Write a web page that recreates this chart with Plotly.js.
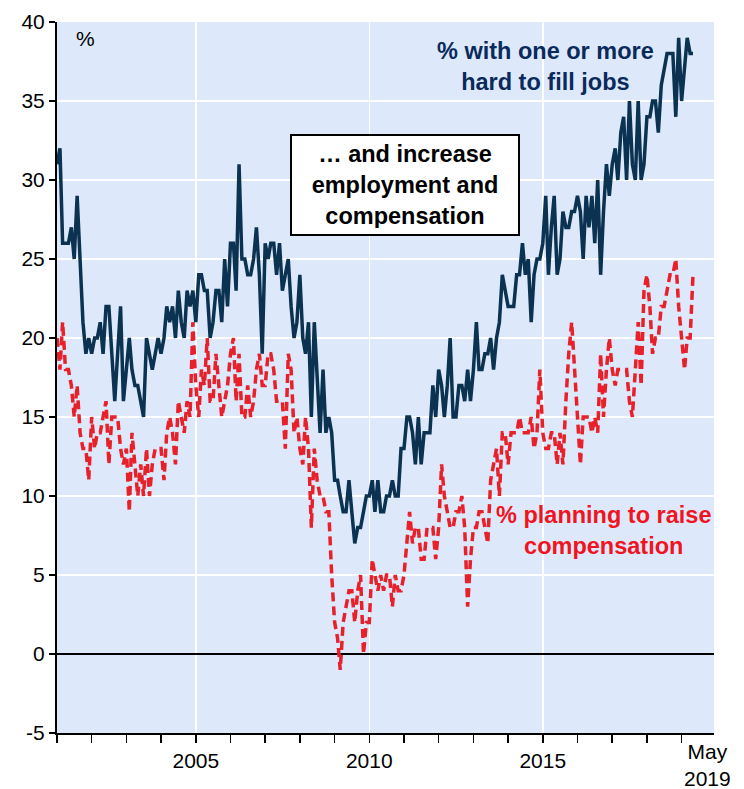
<!DOCTYPE html>
<html>
<head>
<meta charset="utf-8">
<script src="https://cdn.plot.ly/plotly-3.0.1.min.js"></script>
<style>
  html, body { margin: 0; padding: 0; background: #ffffff; }
  #chart { width: 744px; height: 789px; }
</style>
</head>
<body>
<div id="chart"></div>
<script>
// Monthly series, January 2001 to May 2019
const startYear = 2001;
const startMonth = 1;

// % with one or more hard to fill jobs
const hardToFill = [
  31, 32, 26, 26, 26, 27, 25, 29, 25, 21, 19, 20,   // 2001
  19, 20, 20, 21, 19, 22, 22, 19, 16, 19, 22, 16,   // 2002
  18, 20, 18, 17, 17, 16, 15, 20, 19, 18, 19, 20,   // 2003
  19, 20, 22, 21, 22, 20, 23, 21, 20, 23, 22, 23,   // 2004
  21, 24, 24, 23, 23, 20, 21, 23, 23, 21, 25, 22,   // 2005
  26, 26, 23, 31, 25, 25, 24, 24, 25, 27, 24, 19,   // 2006
  26, 25, 26, 26, 24, 26, 23, 24, 25, 22, 20, 21,   // 2007
  24, 20, 19, 21, 15, 21, 18, 14, 18, 14, 15, 14,   // 2008
  11, 11, 10, 9, 9, 11, 9, 7, 8, 8, 9, 10,          // 2009
  10, 11, 9, 11, 9, 9, 10, 10, 11, 10, 10, 13,      // 2010
  13, 15, 15, 14, 12, 15, 12, 14, 14, 14, 17, 15,   // 2011
  18, 17, 15, 17, 20, 15, 15, 17, 17, 16, 18, 16,   // 2012
  18, 21, 18, 18, 19, 19, 20, 18, 20, 21, 24, 23,   // 2013
  22, 22, 22, 24, 24, 26, 24, 25, 21, 24, 25, 25,   // 2014
  26, 29, 24, 27, 29, 24, 25, 28, 27, 27, 28, 28,   // 2015
  29, 28, 25, 29, 27, 29, 26, 30, 24, 28, 31, 29,   // 2016
  31, 32, 30, 33, 34, 30, 35, 31, 30, 35, 30, 31,   // 2017
  34, 34, 35, 35, 33, 36, 37, 38, 38, 38, 34, 39,   // 2018
  35, 37, 39, 38, 38                                // 2019
];

// % planning to raise compensation
const raiseComp = [
  20, 18, 21, 18, 18, 17, 15, 17, 14, 13, 13, 11,   // 2001
  15, 13, 14, 14, 15, 16, 12, 15, 15, 15, 13, 12,   // 2002
  13, 9, 14, 12, 10, 12, 10, 13, 10, 12, 13, 13,    // 2003
  13, 11, 14, 15, 14, 12, 16, 15, 14, 16, 15, 21,   // 2004
  17, 15, 18, 17, 20, 16, 16, 19, 17, 15, 16, 17,   // 2005
  19, 20, 16, 19, 15, 15, 17, 15, 16, 18, 19, 17,   // 2006
  17, 19, 19, 18, 16, 16, 16, 13, 19, 18, 14, 15,   // 2007
  13, 12, 15, 13, 8, 13, 11, 10, 10, 9, 9, 5,       // 2008
  2, 1, -1, 2, 3, 4, 4, 2, 4, 5, 0, 2,              // 2009
  2, 6, 5, 4, 5, 4, 5, 5, 3, 5, 4, 4,               // 2010
  5, 7, 9, 7, 8, 8, 6, 6, 8, 8, 8, 6,               // 2011
  8, 12, 10, 9, 8, 8, 9, 9, 10, 8, 3, 6,            // 2012
  8, 8, 9, 9, 8, 7, 11, 12, 13, 10, 14, 14,         // 2013
  12, 14, 14, 14, 15, 14, 14, 14, 15, 13, 14, 18,   // 2014
  14, 13, 13, 14, 14, 12, 14, 12, 16, 19, 21, 18,   // 2015
  15, 12, 15, 15, 15, 14, 15, 14, 19, 15, 18, 20,   // 2016
  18, 17, 18, 18, 18, 18, 16, 15, 18, 21, 17, 23,   // 2017
  24, 22, 19, 20, 20, 22, 22, 23, 24, 24, 25, 22,   // 2018
  20, 18, 20, 20, 24                                // 2019
];

// y-axis tick values and labels
const yTickValues = [-5, 0, 5, 10, 15, 20, 25, 30, 35, 40];
const yTickLabels = ["-5", "0", "5", "10", "15", "20", "25", "30", "35", "40"];

const labelHardToFill = "% with one or more<br>hard to fill jobs";
const labelRaiseComp = "% planning to raise<br>compensation";
const labelBox = "… and increase<br>employment and<br>compensation";
const labelUnit = "%";
const labelEnd = "May<br>2019";

function monthDates(n) {
  const out = [];
  for (let i = 0; i < n; i++) {
    const m0 = startMonth - 1 + i;
    const y = startYear + Math.floor(m0 / 12);
    const m = (m0 % 12) + 1;
    out.push(y + "-" + String(m).padStart(2, "0") + "-01");
  }
  return out;
}

const dates = monthDates(hardToFill.length);

const FONT = "Liberation Sans, Arial, Helvetica, sans-serif";

const traces = [
  {
    x: dates, y: raiseComp, type: "scatter", mode: "lines",
    line: { color: "#e8202a", width: 3.5, dash: "9px,5px" },
    hoverinfo: "skip"
  },
  {
    x: dates, y: hardToFill, type: "scatter", mode: "lines",
    line: { color: "#0b3351", width: 3.5 },
    hoverinfo: "skip"
  }
];

const layout = {
  width: 744, height: 789,
  margin: { l: 57, r: 30, t: 22, b: 56 },
  paper_bgcolor: "#ffffff",
  plot_bgcolor: "#dde9fb",
  showlegend: false,
  font: { family: FONT, size: 21, color: "#000000" },
  xaxis: {
    type: "date",
    range: ["2001-01-01", "2019-12-08"],
    showline: true, linecolor: "#000000", linewidth: 2,
    ticks: "outside", ticklen: 8, tickwidth: 1.5, tickcolor: "#000000",
    tick0: "2005-01-01", dtick: "M60", tickformat: "%Y",
    showgrid: true, gridcolor: "#ffffff", gridwidth: 1.5,
    minor: { tick0: "2001-01-01", dtick: "M12", ticks: "outside", ticklen: 8, tickwidth: 1.5, tickcolor: "#000000", showgrid: false },
    zeroline: false,
    tickfont: { family: FONT, size: 21, color: "#000000" },
    fixedrange: true
  },
  yaxis: {
    range: [-5, 40],
    tickmode: "array", tickvals: yTickValues, ticktext: yTickLabels,
    showline: true, linecolor: "#000000", linewidth: 2,
    ticks: "outside", ticklen: 6, tickwidth: 1.5, tickcolor: "#000000",
    showgrid: true, gridcolor: "#ffffff", gridwidth: 1.5,
    zeroline: true, zerolinecolor: "#000000", zerolinewidth: 1.2,
    tickfont: { family: FONT, size: 21, color: "#000000" },
    fixedrange: true
  },
  annotations: [
    {
      text: labelUnit, xref: "paper", yref: "paper",
      x: 0.043, y: 0.977, xanchor: "center", yanchor: "middle",
      showarrow: false, font: { family: FONT, size: 21, color: "#000000" }
    },
    {
      text: "<b>" + labelHardToFill + "</b>", xref: "paper", yref: "paper",
      x: 0.743, y: 0.937, xanchor: "center", yanchor: "middle",
      showarrow: false, align: "center",
      font: { family: FONT, size: 23.5, color: "#0a2a5c" }
    },
    {
      text: "<b>" + labelBox + "</b>", xref: "paper", yref: "paper",
      x: 0.530, y: 0.771, xanchor: "center", yanchor: "middle",
      showarrow: false, align: "center",
      width: 214, height: 86,
      bgcolor: "#ffffff", bordercolor: "#000000", borderwidth: 2, borderpad: 6,
      font: { family: FONT, size: 23.5, color: "#000000" }
    },
    {
      text: "<b>" + labelRaiseComp + "</b>", xref: "paper", yref: "paper",
      x: 0.832, y: 0.285, xanchor: "center", yanchor: "middle",
      showarrow: false, align: "center",
      font: { family: FONT, size: 23.5, color: "#f0141e" }
    },
    {
      text: labelEnd, xref: "paper", yref: "paper",
      x: 0.99, y: 0, xanchor: "center", yanchor: "top", yshift: -5,
      showarrow: false, align: "center",
      font: { family: FONT, size: 21, color: "#000000" }
    }
  ]
};

Plotly.newPlot("chart", traces, layout, { displayModeBar: false, staticPlot: true });
</script>
</body>
</html>
